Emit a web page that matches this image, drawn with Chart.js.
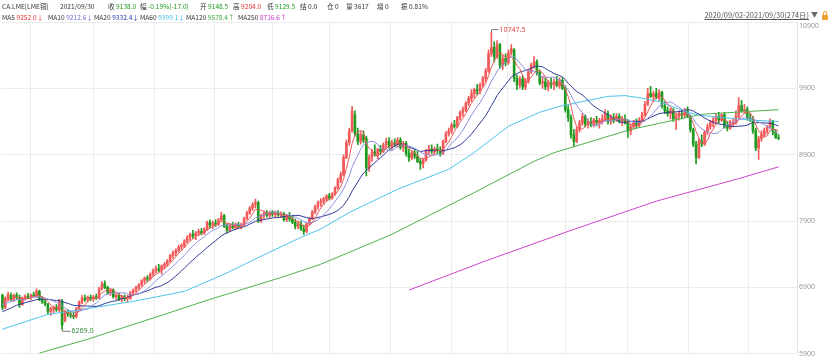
<!DOCTYPE html>
<html><head><meta charset="utf-8">
<script src="https://cdn.jsdelivr.net/npm/chart.js@4.4.1/dist/chart.umd.min.js"></script>
<style>
html,body{margin:0;padding:0;background:#fff;}
#wrap{position:relative;width:832px;height:360px;overflow:hidden;font-family:"Noto Sans CJK SC","Noto Sans",sans-serif;}
canvas{position:absolute;left:0;top:0;}
.t{position:absolute;font-size:6.6px;line-height:9px;white-space:nowrap;color:#333;}
.g{color:#1a9a1a}.r{color:#e03030}
</style></head><body>
<div id="wrap">
<canvas id="c" width="832" height="360"></canvas>
<div class="t" style="left:2px;top:2px">CA.LME[LME铜]</div>
<div class="t" style="left:60px;top:2px">2021/09/30</div>
<div class="t" style="left:108px;top:2px">收 <span class="g">9138.0</span></div>
<div class="t" style="left:140px;top:2px">幅 <span class="g">-0.19%(-17.0)</span></div>
<div class="t" style="left:200px;top:2px">开 <span class="g">9148.5</span></div>
<div class="t" style="left:233px;top:2px">高 <span class="r">9204.0</span></div>
<div class="t" style="left:267px;top:2px">低 <span class="g">9129.5</span></div>
<div class="t" style="left:300px;top:2px">结 0.0</div>
<div class="t" style="left:327px;top:2px">仓 0</div>
<div class="t" style="left:346px;top:2px">量 3617</div>
<div class="t" style="left:377px;top:2px">增 0</div>
<div class="t" style="left:401px;top:2px">振 0.81%</div>
<div class="t" style="left:2px;top:13px">MA5 <span style="color:#e83030">9252.0↓</span></div>
<div class="t" style="left:48px;top:13px">MA10 <span style="color:#6a70d0">9212.6↓</span></div>
<div class="t" style="left:94px;top:13px">MA20 <span style="color:#2233aa">9332.4↓</span></div>
<div class="t" style="left:140px;top:13px">MA60 <span style="color:#3fc0e8">9399.1↓</span></div>
<div class="t" style="left:186px;top:13px">MA120 <span style="color:#3aa83a">9578.4↑</span></div>
<div class="t" style="left:238px;top:13px">MA250 <span style="color:#c838c8">8716.6↑</span></div>
<div class="t" style="right:23px;top:10px;color:#555;font-size:7.4px;text-decoration:underline">2020/09/02-2021/09/30(274日)</div>
<div class="t" style="left:811px;top:10px;color:#666;font-size:7px">▼</div>
<div style="position:absolute;left:822px;top:15px;width:6px;height:5px;background:#f0a030;"></div>
<div style="position:absolute;left:823px;top:11px;width:2px;height:3px;border:1px solid #f0a030;border-bottom:none;border-radius:2px 2px 0 0;"></div>
</div>
<script>
const priorCloses = [6400,6380,6420,6350,6330,6400,6460,6520,6490,6550,6600,6580,6620,6650,6610,6640,6680,6700,6720];
const opens = [6780,6600,6740,6780,6730,6780,6750,6640,6740,6770,6750,6790,6770,6840,6720,6680,6640,6540,6570,6600,
6560,6690,6400,6520,6500,6480,6460,6580,6680,6740,6720,6750,6730,6760,6740,6880,6960,6900,6820,6860,
6760,6780,6720,6760,6730,6740,6820,6860,6900,6940,7000,7040,7030,7100,7150,7180,7160,7220,7250,7300,
7380,7420,7460,7510,7530,7600,7650,7700,7680,7720,7740,7720,7780,7880,7840,7870,7850,7920,7980,7820,
7760,7830,7800,7850,7820,7840,7940,8020,8100,8150,8180,7900,7980,8020,7990,8030,8000,8020,7990,8010,
7920,7980,7930,7880,7820,7860,7780,7740,7860,7940,8040,8120,8180,8200,8230,8280,8250,8310,8400,8520,
8600,8860,9080,9260,9500,9220,9100,9200,9150,8700,8860,8940,8900,8980,8950,9050,9100,9030,9080,9060,
9120,9010,9070,8920,8850,8930,8880,8800,8760,8820,8960,8990,8950,8990,8960,8920,9100,9220,9260,9350,
9330,9460,9540,9580,9680,9750,9820,9880,9860,9950,10050,10160,10420,10520,10380,10560,10250,10350,10290,10440,
10480,10050,9950,10040,9920,10000,10150,10250,10300,10140,9980,10000,9920,9980,9960,10000,9940,10020,9900,9580,
9460,9200,9100,9280,9380,9480,9360,9400,9350,9420,9380,9420,9440,9520,9400,9460,9420,9480,9400,9440,
9400,9260,9320,9380,9340,9420,9500,9660,9820,9780,9820,9760,9840,9640,9560,9520,9560,9440,9480,9520,
9500,9560,9480,9280,9060,8860,9100,9060,9240,9320,9380,9420,9480,9420,9500,9320,9300,9360,9380,9480,
9640,9560,9580,9460,9440,9260,9000,9140,9200,9266,9320,9407,9240,9148.5];
const highs = [6800,6760,6830,6820,6800,6820,6790,6760,6790,6810,6800,6830,6880,6860,6760,6720,6660,6600,6620,6640,
6720,6720,6560,6560,6540,6530,6600,6700,6780,6790,6770,6790,6780,6800,6900,6990,7000,6920,6880,6880,
6800,6810,6780,6790,6780,6840,6880,6920,6960,7020,7060,7080,7120,7180,7220,7250,7240,7280,7320,7400,
7450,7480,7540,7560,7620,7680,7720,7760,7740,7780,7790,7800,7900,7920,7900,7920,7940,8030,8000,7860,
7850,7880,7870,7880,7870,7960,8050,8120,8180,8230,8200,8000,8050,8060,8050,8060,8050,8060,8040,8030,
8000,8030,7980,7930,7900,7900,7840,7880,7960,8060,8140,8200,8240,8260,8300,8320,8330,8420,8550,8640,
8900,9120,9300,9630,9560,9300,9250,9260,9180,8900,8980,9050,9000,9040,9080,9150,9160,9120,9140,9160,
9160,9100,9100,8980,8960,8980,8950,8840,8850,8980,9040,9050,9020,9060,9020,9120,9250,9300,9380,9420,
9480,9560,9620,9700,9780,9880,9900,9960,9980,10080,10200,10480,10747.5,10600,10620,10580,10400,10420,10480,10560,
10500,10100,10080,10090,10050,10180,10280,10380,10330,10180,10080,10060,10020,10050,10040,10080,10060,10060,9940,9640,
9500,9280,9320,9420,9520,9500,9440,9460,9450,9480,9450,9500,9580,9560,9500,9520,9520,9520,9480,9500,
9430,9360,9420,9440,9460,9540,9700,9900,9930,9860,9900,9880,9860,9700,9620,9600,9600,9520,9560,9580,
9600,9620,9500,9300,9100,9140,9200,9260,9360,9420,9460,9520,9540,9520,9540,9400,9420,9440,9560,9760,
9720,9660,9620,9520,9480,9300,9180,9260,9300,9340,9440,9420,9280,9204];
const lows = [6560,6580,6700,6700,6690,6720,6600,6630,6710,6730,6720,6760,6750,6700,6660,6620,6500,6480,6520,6540,
6540,6269,6380,6460,6440,6430,6440,6560,6650,6690,6680,6700,6690,6720,6730,6860,6880,6800,6780,6740,
6720,6700,6680,6700,6680,6720,6800,6830,6870,6920,6960,6990,7010,7070,7120,7130,7100,7180,7220,7280,
7340,7380,7430,7460,7500,7570,7610,7640,7620,7680,7690,7700,7760,7800,7790,7820,7830,7900,7800,7720,
7740,7780,7770,7790,7780,7830,7920,8000,8060,8100,7880,7880,7940,7960,7950,7970,7950,7970,7950,7900,
7890,7900,7860,7780,7780,7760,7700,7720,7840,7920,8010,8080,8120,8150,8200,8220,8230,8290,8380,8480,
8580,8840,9040,9240,9180,9050,9060,9080,8580,8650,8800,8880,8840,8900,8930,9000,9000,8980,9020,9010,
8980,8950,8880,8800,8820,8840,8780,8680,8700,8800,8900,8920,8900,8920,8880,8900,9080,9180,9220,9300,
9310,9420,9480,9550,9640,9700,9760,9800,9820,9920,10000,10140,10380,10300,10350,10200,10180,10240,10260,10400,
10000,9880,9900,9880,9880,9980,10120,10200,10100,9950,9900,9880,9860,9900,9880,9920,9900,9880,9540,9400,
9150,9020,9080,9240,9340,9320,9300,9320,9320,9350,9300,9360,9400,9360,9360,9380,9400,9380,9340,9360,
9160,9200,9280,9300,9320,9400,9480,9640,9760,9700,9740,9720,9600,9520,9480,9440,9400,9280,9420,9440,
9460,9460,9240,9020,8760,8840,9020,9040,9200,9280,9320,9360,9380,9400,9300,9260,9280,9320,9360,9460,
9540,9520,9420,9400,9220,8960,8830,9100,9160,9220,9300,9200,9150,9129.5];
const closes = [6600,6740,6790,6730,6780,6760,6640,6740,6770,6750,6790,6770,6840,6720,6680,6650,6540,6580,6600,6560,
6690,6330,6520,6500,6480,6460,6580,6680,6740,6720,6750,6730,6760,6740,6880,6960,6900,6820,6860,6760,
6780,6720,6760,6730,6740,6820,6860,6900,6940,7000,7040,7030,7100,7150,7180,7160,7220,7250,7300,7380,
7420,7460,7510,7530,7600,7650,7700,7680,7720,7740,7720,7780,7880,7840,7870,7850,7920,7980,7820,7760,
7830,7800,7850,7820,7840,7940,8020,8100,8150,8180,7900,7980,8020,7990,8030,8000,8020,7990,8010,7920,
7980,7930,7880,7820,7860,7780,7740,7860,7940,8040,8120,8180,8200,8230,8280,8250,8310,8400,8520,8600,
8860,9080,9260,9560,9220,9100,9200,9120,8700,8860,8940,8900,8980,8950,9050,9100,9030,9080,9060,9120,
9010,9070,8920,8850,8930,8880,8800,8760,8820,8960,8990,8950,8990,8960,8920,9100,9220,9260,9350,9330,
9460,9540,9580,9680,9750,9820,9880,9860,9950,10050,10160,10420,10520,10380,10560,10250,10350,10290,10440,10500,
10050,9950,10040,9920,10000,10150,10250,10300,10140,9980,10000,9920,9980,9960,10000,9940,10020,9900,9580,9460,
9200,9100,9280,9380,9480,9360,9400,9350,9420,9380,9420,9440,9520,9400,9460,9420,9480,9400,9440,9380,
9260,9320,9380,9340,9420,9500,9660,9820,9780,9820,9760,9840,9640,9560,9520,9560,9440,9480,9520,9500,
9560,9480,9280,9060,8860,9100,9060,9240,9320,9380,9420,9480,9420,9500,9320,9300,9360,9380,9480,9640,
9560,9580,9460,9440,9260,9000,9140,9200,9266,9320,9407,9240,9155,9138];
const monthStarts = [21,43,64,85,105,125,148,168,187,209,231,252];
const yTicks = [5900,6900,7900,8900,9900,10900];
const ma60Pts = [[0,6270],[16,6495],[26,6555],[46,6690],[64,6840],[79,7120],[91,7370],[105,7655],[112,7780],[122,8030],[139,8380],[157,8680],[166,8935],[178,9330],[189,9540],[196,9630],[213,9780],[219,9790],[224,9760],[231,9700],[241,9540],[246,9490],[264,9420],[273,9399.1]];
const ma120Pts = [[13,5910],[30,6120],[57,6495],[73,6720],[98,7050],[112,7250],[137,7700],[166,8330],[187,8800],[194,8930],[221,9280],[246,9510],[273,9578.4]];
const ma250Pts = [[143,6860],[170,7300],[200,7760],[230,8200],[259,8540],[273,8716.6]];

const idx = closes.map((_, i) => i);
const allCloses = priorCloses.concat(closes);
function movingAvg(n){
  const off = priorCloses.length;
  return idx.map(i => {
    const end = i + off;
    if (end - n + 1 < 0) return {x:i, y:null};
    let s = 0;
    for (let k = end - n + 1; k <= end; k++) s += allCloses[k];
    return {x:i, y:s/n};
  });
}
const upC = '#f25a5a', dnC = '#1f9b1f';
const candleColors = idx.map(i => closes[i] >= opens[i] ? upC : dnC);
const toPts = a => a.map(p => ({x:p[0], y:p[1]}));

const lineDs = (label, data, color) => ({type:'line', label, data, borderColor:color, borderWidth:1, pointRadius:0, tension:0, fill:false, order:1, spanGaps:true});

const markPlugin = {
  id:'marks',
  afterDatasetsDraw(chart){
    const {ctx, scales:{x, y}} = chart;
    const hi = Math.max(...highs), hiI = highs.indexOf(hi);
    const lo = Math.min(...lows), loI = lows.indexOf(lo);
    ctx.save();
    ctx.font = '7px "Noto Sans", sans-serif';
    ctx.textBaseline = 'middle';
    ctx.lineWidth = 1;
    let px = Math.round(x.getPixelForValue(hiI)) + 0.5, py = y.getPixelForValue(hi);
    ctx.strokeStyle = '#7a7a7a';
    ctx.beginPath(); ctx.moveTo(px, py); ctx.lineTo(px, py - 2.5); ctx.lineTo(px + 7, py - 2.5); ctx.stroke();
    ctx.fillStyle = '#e04040'; ctx.fillText(hi.toFixed(1), px + 8, py - 2.5);
    px = Math.round(x.getPixelForValue(loI)) + 0.5; py = y.getPixelForValue(lo);
    ctx.beginPath(); ctx.moveTo(px, py); ctx.lineTo(px, py + 2); ctx.lineTo(px + 8, py + 2); ctx.stroke();
    ctx.fillStyle = '#3a8a3a'; ctx.fillText(lo.toFixed(1), px + 9, py + 2);
    ctx.restore();
  }
};

new Chart(document.getElementById('c'), {
  data: {
    datasets: [
      {type:'bar', label:'wick', data: idx.map(i => ({x:i, y:[lows[i], highs[i]]})), backgroundColor:candleColors, barThickness:1, grouped:false, order:3},
      {type:'bar', label:'body', data: idx.map(i => ({x:i, y:[opens[i], closes[i]]})), backgroundColor:candleColors, barThickness:2, minBarLength:1, grouped:false, order:2},
      lineDs('MA5', movingAvg(5), '#ec5a5a'),
      lineDs('MA10', movingAvg(10), '#8b8fdc'),
      lineDs('MA20', movingAvg(20), '#2c3a96'),
      lineDs('MA60', toPts(ma60Pts), '#4cc4ea'),
      lineDs('MA120', toPts(ma120Pts), '#52b152'),
      lineDs('MA250', toPts(ma250Pts), '#cc44cc')
    ]
  },
  options: {
    responsive:false, animation:false, devicePixelRatio:1,
    layout:{padding:{top:22, bottom:1, left:1, right:0}},
    plugins:{legend:{display:false}, tooltip:{enabled:false}},
    scales:{
      x:{type:'linear', min:-0.5, max:279.5, offset:false,
         afterBuildTicks: s => { s.ticks = monthStarts.map(v => ({value:v})); },
         ticks:{display:false}, grid:{color:'#ececec', drawTicks:false}, border:{display:false}},
      y:{position:'right', min:5900, max:10900,
         afterBuildTicks: s => { s.ticks = yTicks.map(v => ({value:v})); },
         afterFit: s => { s.width = 35; },
         ticks:{color:'#999', font:{size:7, family:'"Noto Sans", sans-serif'}, padding:2,
                callback: v => v === yTicks[yTicks.length - 1] ? ['', String(v)] : String(v)},
         grid:{color:'#ececec', drawTicks:false}, border:{display:true, color:'#e4e4e4'}}
    }
  },
  plugins:[markPlugin]
});
</script>
</body></html>
